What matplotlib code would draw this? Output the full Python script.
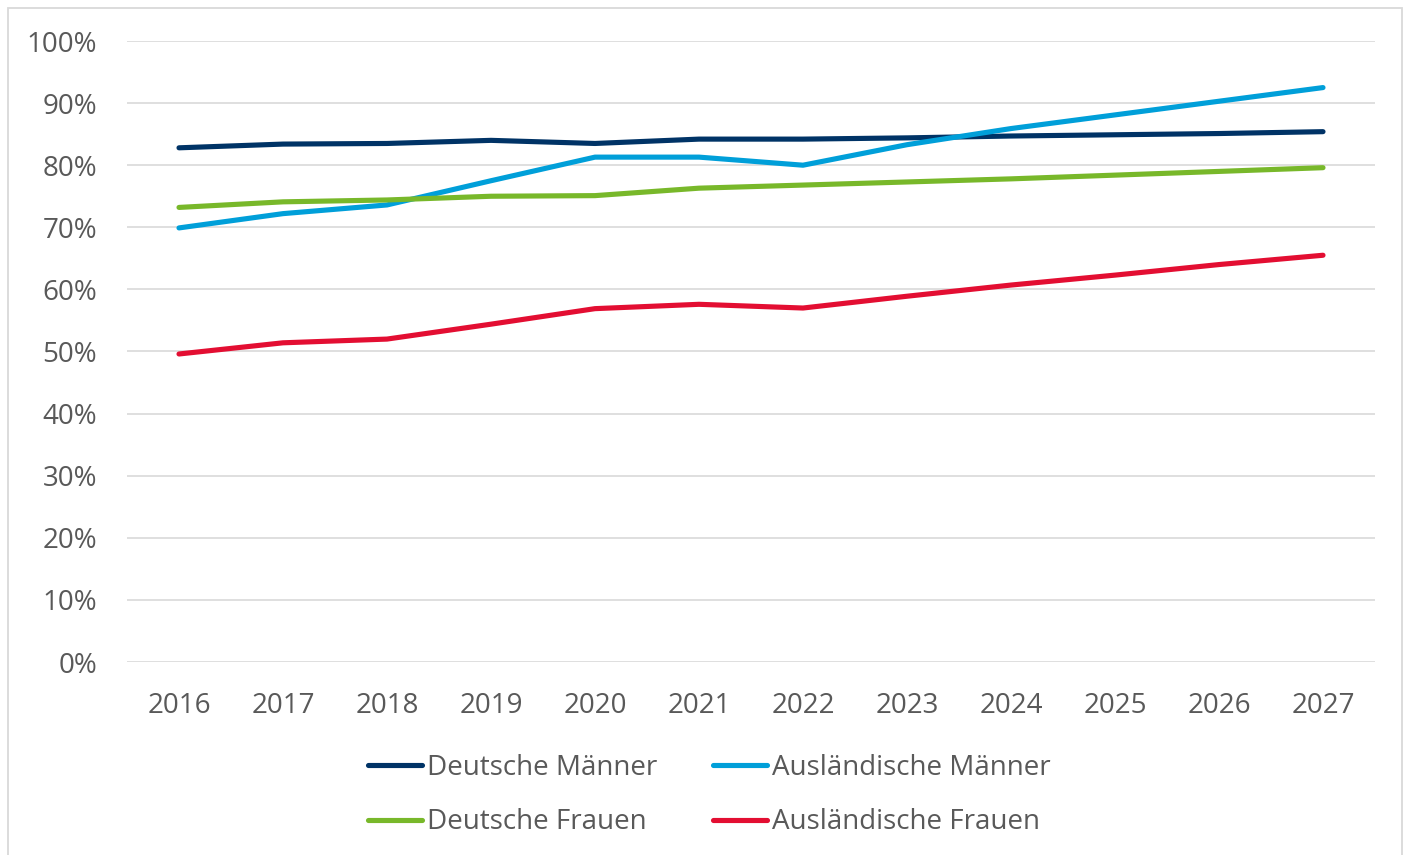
import matplotlib
matplotlib.use("Agg")
import matplotlib.pyplot as plt
from matplotlib.patches import Rectangle
from matplotlib.ticker import FuncFormatter

years = [2016, 2017, 2018, 2019, 2020, 2021, 2022, 2023, 2024, 2025, 2026, 2027]
deutsche_maenner = [82.8, 83.4, 83.5, 84.0, 83.5, 84.2, 84.2, 84.4, 84.7, 84.9, 85.1, 85.4]
auslaendische_maenner = [69.9, 72.2, 73.6, 77.5, 81.3, 81.3, 80.0, 83.3, 85.9, 88.1, 90.3, 92.5]
deutsche_frauen = [73.2, 74.1, 74.4, 75.0, 75.1, 76.3, 76.8, 77.3, 77.8, 78.4, 79.0, 79.6]
auslaendische_frauen = [49.6, 51.4, 52.0, 54.4, 56.9, 57.6, 57.0, 58.9, 60.7, 62.3, 64.0, 65.5]

series_labels = ["Deutsche Männer", "Ausländische Männer", "Deutsche Frauen", "Ausländische Frauen"]
colors = ["#003366", "#009FD9", "#78B82A", "#E30E32"]

plt.rcParams['font.family'] = ['Open Sans', 'DejaVu Sans']
text_color = "#595959"

W, H = 1408, 855
fig = plt.figure(figsize=(W / 100, H / 100), dpi=100)
fig.patch.set_facecolor("white")

# outer frame
fig.add_artist(Rectangle((8 / W, -0.01), (1402 - 8) / W, (H - 8) / H + 0.01,
                         transform=fig.transFigure, fill=False,
                         edgecolor="#D9D9D9", linewidth=1.3))

left, right, top, bottom = 127, 1375, 41, 662
ax = fig.add_axes([left / W, (H - bottom) / H, (right - left) / W, (bottom - top) / H])

x = list(range(len(years)))
data = [deutsche_maenner, auslaendische_maenner, deutsche_frauen, auslaendische_frauen]
lines = []
for vals, lab, col in zip(data, series_labels, colors):
    ln, = ax.plot(x, vals, color=col, linewidth=3.7, solid_capstyle='round',
                  solid_joinstyle='round', label=lab, zorder=3)
    lines.append(ln)

ax.set_xlim(-0.5, len(years) - 0.5)
ax.set_ylim(0, 100)
ax.set_yticks(range(0, 101, 10))
ax.yaxis.set_major_formatter(FuncFormatter(lambda v, p: f"{int(v)}%"))
ax.set_xticks(x)
ax.set_xticklabels([str(y) for y in years])

ax.grid(axis='y', color="#D9D9D9", linewidth=1.2, zorder=0)
ax.grid(axis='x', visible=False)
for s in ax.spines.values():
    s.set_visible(False)
ax.tick_params(axis='both', length=0, labelsize=20, colors=text_color)
ax.tick_params(axis='y', pad=21.5)
ax.tick_params(axis='x', pad=21.5)

handles = [lines[0], lines[2], lines[1], lines[3]]
labels = [series_labels[0], series_labels[2], series_labels[1], series_labels[3]]
leg = fig.legend(handles, labels, ncol=2, loc='upper left',
                 bbox_to_anchor=(368 / W, 1 - 754 / H), frameon=False,
                 fontsize=20, handlelength=1.95, handletextpad=0.18,
                 columnspacing=2.0, labelspacing=0.95, borderaxespad=0,
                 borderpad=0)
for t in leg.get_texts():
    t.set_color(text_color)

fig.savefig("out.png", dpi=100)
